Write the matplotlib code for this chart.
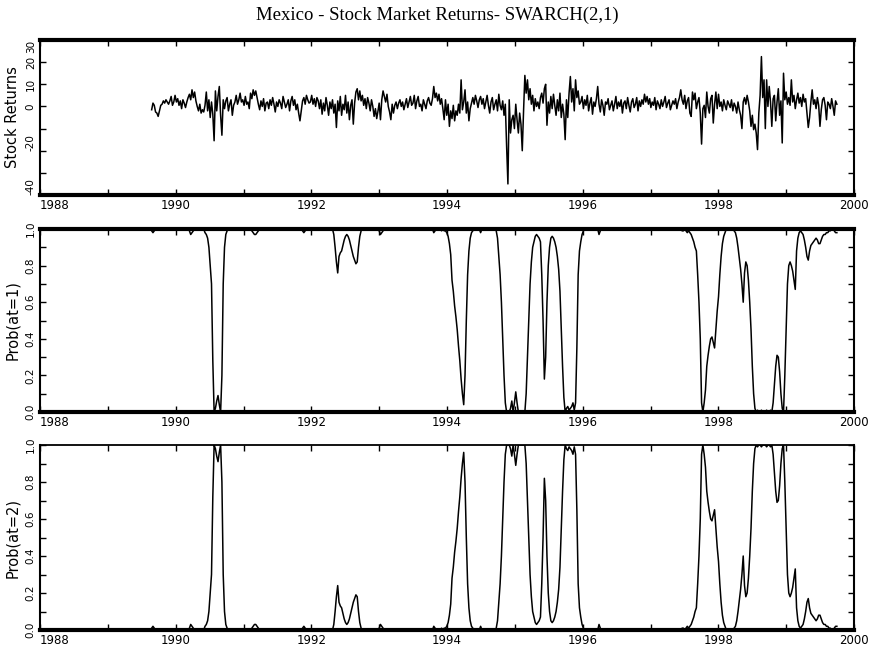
import numpy as np
import pandas as pd
import matplotlib
matplotlib.use("Agg")
import matplotlib.pyplot as plt

# ---------------- data (weekly, from late Aug 1989) ----------------
ret_1989 = [-1.5, 1.5, 0.5, -2.5, -3.0, -4.5, -2.0, 0.5, 1.0, 2.5, 1.5, 3.0, 2.0, 1.0, 2.5, 4.5, 0.5, 2.0]
ret_1990 = [5.0, 2.0, 3.5, 0.5, 2.5, -1.0, 3.0, 1.5, -0.5, 2.0, 4.0, 5.5, 3.0, 7.5, 4.0, 6.5, 2.5, 0.0, -2.0, 1.0,
            -3.0, -1.5, -2.5, 0.5, 6.5, -2.0, 3.0, -5.0, 2.0, -3.5, -15.5, 7.0, -2.0, 4.5, 9.0, -4.0, -13.0, 3.0,
            -1.0, 2.5, 4.0, -2.0, 1.0, 3.0, -4.0, 0.5, 2.0, 5.0, 1.0, 3.0, 6.0, 2.0]
ret_1991 = [3.0, 0.5, 4.5, 1.0, 2.0, -1.0, 6.0, 3.5, 7.5, 5.0, 7.0, 4.0, 1.0, -1.5, 2.5, 0.0, 3.5, -2.0, 1.5, 2.0,
            -1.0, 3.0, 0.5, 4.0, 1.0, -2.5, 2.0, 0.0, 3.0, 1.5, -1.0, 4.5, 2.0, -0.5, 1.0, 3.0, -2.0, 2.5, 4.5,
            0.5, 3.0, -1.5, 1.0, -3.0, -6.5, -2.0, 2.5, 4.0, 1.0, 5.0, 3.0, 1.5]
ret_1992 = [2.0, 5.0, 1.0, 3.5, 0.0, 4.0, 2.5, -1.0, 3.0, -3.5, 1.5, -2.0, 4.0, 0.5, -4.0, 2.0, -1.0, 3.0, -3.0, 1.0,
            -9.5, 2.5, -2.0, 4.5, -4.0, 1.0, -1.5, 5.0, -3.0, 2.0, -6.0, 0.5, 3.0, -8.0, 1.5, 6.5, 8.0, 3.0, 7.0,
            2.5, 5.0, 0.5, 3.5, -1.0, 4.0, 1.5, -2.0, 3.0, 0.0, -4.5, -1.0, -5.5]
ret_1993 = [-2.0, 1.5, -6.0, 3.0, 7.0, 4.5, 2.0, 5.5, 0.0, -2.5, -6.0, 1.0, -3.0, 0.5, 2.0, -1.0, 1.5, 3.0, 0.0, 2.0,
            -1.5, 1.0, 3.5, -0.5, 2.0, 4.5, 0.5, 1.5, 5.0, -1.0, 2.5, 4.5, 0.0, 1.0, -2.0, 3.0, 1.0, -1.0, 2.5,
            4.0, 1.5, 0.5, 3.5, 9.0, 4.0, 6.0, 2.5, 5.5, 1.0, 3.5, -1.0, -6.0]
ret_1994 = [3.0, -4.0, 1.0, -9.0, -2.0, -5.5, 0.5, -6.5, -2.0, -4.0, 1.0, -3.0, 12.0, -1.5, 2.0, 7.5, -3.0, 2.0, -6.5,
            -1.0, 1.5, 4.0, 1.0, 5.0, 2.5, -0.5, 3.0, 4.5, 1.0, 3.5, -1.0, 2.0, 5.0, 0.5, -3.0, 2.0, 4.0, -1.5,
            1.0, 3.0, -2.0, 5.5, 0.5, -1.5, 2.5, -4.0, 1.0, -18.0, -35.0, 3.0, -12.0, -6.0]
ret_1995 = [-4.0, -10.0, 1.0, -6.0, -12.0, -3.0, -8.0, -20.0, -2.0, 14.0, 6.0, 12.0, 3.0, 8.0, 1.0, 5.0, -2.0, 3.5,
            0.0, 2.0, -1.0, 4.0, 6.0, 1.5, 8.0, 10.0, -8.5, 2.0, -3.0, 4.5, -1.0, 5.5, 0.5, -4.0, 3.0, -2.0, 6.0,
            -5.0, 1.0, -3.5, -15.0, 3.0, -5.0, 6.0, 13.5, 2.0, 8.0, -2.0, 12.0, 4.0, 7.0, 1.0]
ret_1996 = [2.0, 4.5, -1.0, 3.0, 0.5, 5.0, -2.0, 1.5, 4.0, -3.5, 2.0, 0.0, 3.5, 9.0, 1.0, -2.5, 3.0, 0.5, -4.0, 2.0,
            1.0, 3.5, -1.5, 0.5, 2.5, -2.0, 1.0, 4.5, -1.0, 2.0, 0.0, 3.0, -3.0, 1.5, 2.5, -1.0, 4.0, 0.5, -2.5,
            2.0, 3.5, -0.5, 1.0, 4.0, -2.0, 2.5, 0.0, 3.0, 1.0, 5.5, 2.0, 4.5]
ret_1997 = [1.0, 3.5, -0.5, 2.0, 0.5, 4.0, -1.5, 2.5, 1.0, -1.0, 3.0, 0.0, 2.0, 4.5, -0.5, 1.5, 3.0, -1.5, 0.5, 2.5,
            1.0, 3.5, -1.0, 2.0, 4.0, 7.5, 3.0, 1.0, 5.0, -1.0, 2.5, 4.0, -3.0, -4.5, 6.5, 3.0, 6.0, -1.0, 2.0,
            4.0, -3.0, -17.0, -1.0, 0.5, -5.0, 6.5, 0.0, -3.0, 3.5, 5.0, -7.5, 1.0]
ret_1998 = [6.5, -1.0, 5.5, 0.0, 2.0, -2.0, 3.0, 0.5, -1.5, 2.5, 1.0, -0.5, 3.0, -2.0, 1.5, 0.0, -3.0, 2.0, -1.5,
            -4.0, -10.0, 2.0, 4.0, 1.0, 5.0, 2.0, -2.0, -9.0, -4.0, -10.5, -8.0, -12.0, -19.5, -3.0, 5.0, 22.5,
            4.0, 12.0, -10.0, 12.0, 0.0, 9.0, 2.0, -9.0, 3.5, 5.0, -6.5, 2.0, 8.0, -4.0, 2.5, -16.5]
ret_1999 = [15.0, 3.0, 6.5, 1.0, 4.0, 0.5, 12.0, 2.0, 5.0, -1.0, 3.0, 6.0, 1.5, 4.0, 0.0, 5.5, 2.0, 3.5, -3.0, -9.5,
            -5.0, 2.0, 7.5, 1.0, 3.0, -1.0, 4.0, 0.5, -9.0, -1.5, 3.0, 4.0, 0.5, -6.0, 2.0, 1.0, -1.0, 3.5, 0.0,
            -4.0, 2.5, 1.0]

p1_1989 = [0.99, 0.98, 0.99, 1.0, 1.0, 1.0, 1.0, 1.0, 1.0, 1.0, 1.0, 1.0, 1.0, 1.0, 1.0, 1.0, 1.0, 1.0]
p1_1990 = [1.0, 1.0, 1.0, 1.0, 1.0, 1.0, 1.0, 1.0, 1.0, 1.0, 1.0, 0.99, 0.97, 0.98, 0.99, 1.0, 1.0, 1.0, 1.0, 1.0,
           1.0, 1.0, 1.0, 0.98, 0.97, 0.95, 0.90, 0.80, 0.70, 0.28, 0.0, 0.02, 0.06, 0.09, 0.04, 0.0, 0.20, 0.70,
           0.90, 0.97, 0.99, 1.0, 1.0, 1.0, 1.0, 1.0, 1.0, 1.0, 1.0, 1.0, 1.0, 1.0]
p1_1991 = [1.0, 1.0, 1.0, 1.0, 1.0, 1.0, 1.0, 0.99, 0.98, 0.97, 0.97, 0.98, 0.99, 1.0, 1.0, 1.0, 1.0, 1.0, 1.0, 1.0,
           1.0, 1.0, 1.0, 1.0, 1.0, 1.0, 1.0, 1.0, 1.0, 1.0, 1.0, 1.0, 1.0, 1.0, 1.0, 1.0, 1.0, 1.0, 1.0, 1.0,
           1.0, 1.0, 1.0, 1.0, 1.0, 1.0, 0.99, 0.98, 0.99, 1.0, 1.0, 1.0]
p1_1992 = [1.0, 1.0, 1.0, 1.0, 1.0, 1.0, 1.0, 1.0, 1.0, 1.0, 1.0, 1.0, 1.0, 1.0, 1.0, 1.0, 1.0, 1.0, 0.97, 0.90,
           0.82, 0.76, 0.85, 0.87, 0.88, 0.91, 0.94, 0.96, 0.97, 0.96, 0.94, 0.91, 0.88, 0.85, 0.83, 0.81, 0.82,
           0.90, 0.96, 0.99, 1.0, 1.0, 1.0, 1.0, 1.0, 1.0, 1.0, 1.0, 1.0, 1.0, 1.0, 1.0]
p1_1993 = [1.0, 0.99, 0.97, 0.98, 0.99, 1.0, 1.0, 1.0, 1.0, 1.0, 1.0, 1.0, 1.0, 1.0, 1.0, 1.0, 1.0, 1.0, 1.0, 1.0,
           1.0, 1.0, 1.0, 1.0, 1.0, 1.0, 1.0, 1.0, 1.0, 1.0, 1.0, 1.0, 1.0, 1.0, 1.0, 1.0, 1.0, 1.0, 1.0, 1.0,
           1.0, 1.0, 1.0, 0.98, 0.99, 1.0, 1.0, 1.0, 1.0, 0.99, 1.0, 0.99]
p1_1994 = [0.99, 0.98, 0.96, 0.92, 0.86, 0.72, 0.66, 0.58, 0.52, 0.45, 0.36, 0.28, 0.18, 0.10, 0.04, 0.20, 0.50,
           0.75, 0.88, 0.95, 0.98, 0.99, 1.0, 1.0, 1.0, 1.0, 1.0, 0.98, 1.0, 1.0, 1.0, 1.0, 1.0, 1.0, 1.0, 1.0,
           1.0, 1.0, 1.0, 0.99, 0.95, 0.85, 0.75, 0.60, 0.40, 0.20, 0.05, 0.0, 0.0, 0.0, 0.02, 0.06]
p1_1995 = [0.0, 0.05, 0.11, 0.05, 0.0, 0.0, 0.0, 0.0, 0.0, 0.0, 0.10, 0.30, 0.50, 0.70, 0.82, 0.90, 0.93, 0.96,
           0.97, 0.96, 0.95, 0.93, 0.75, 0.50, 0.18, 0.30, 0.60, 0.80, 0.90, 0.95, 0.96, 0.95, 0.93, 0.90, 0.85,
           0.78, 0.66, 0.45, 0.25, 0.08, 0.0, 0.02, 0.03, 0.01, 0.02, 0.03, 0.05, 0.01, 0.05, 0.35, 0.75, 0.88]
p1_1996 = [0.93, 0.97, 0.99, 1.0, 1.0, 1.0, 1.0, 1.0, 1.0, 1.0, 1.0, 1.0, 1.0, 1.0, 0.97, 0.99, 1.0, 1.0, 1.0, 1.0,
           1.0, 1.0, 1.0, 1.0, 1.0, 1.0, 1.0, 1.0, 1.0, 1.0, 1.0, 1.0, 1.0, 1.0, 1.0, 1.0, 1.0, 1.0, 1.0, 1.0,
           1.0, 1.0, 1.0, 1.0, 1.0, 1.0, 1.0, 1.0, 1.0, 1.0, 1.0, 1.0]
p1_1997 = [1.0, 1.0, 1.0, 1.0, 1.0, 1.0, 1.0, 1.0, 1.0, 1.0, 1.0, 1.0, 1.0, 1.0, 1.0, 1.0, 1.0, 1.0, 1.0, 1.0,
           1.0, 1.0, 1.0, 1.0, 1.0, 1.0, 0.99, 0.99, 1.0, 0.99, 0.98, 0.99, 0.98, 0.97, 0.95, 0.93, 0.90, 0.88,
           0.75, 0.60, 0.40, 0.05, 0.0, 0.05, 0.12, 0.25, 0.31, 0.36, 0.40, 0.41, 0.38, 0.35]
p1_1998 = [0.45, 0.55, 0.63, 0.75, 0.85, 0.92, 0.96, 0.98, 1.0, 1.0, 1.0, 1.0, 1.0, 1.0, 0.99, 0.98, 0.95, 0.90,
           0.84, 0.78, 0.70, 0.60, 0.76, 0.82, 0.80, 0.72, 0.60, 0.45, 0.25, 0.10, 0.02, 0.0, 0.01, 0.0, 0.0, 0.01,
           0.0, 0.0, 0.0, 0.01, 0.0, 0.0, 0.01, 0.0, 0.05, 0.15, 0.25, 0.31, 0.30, 0.22, 0.10, 0.02]
p1_1999 = [0.0, 0.20, 0.45, 0.70, 0.80, 0.82, 0.80, 0.77, 0.72, 0.67, 0.88, 0.95, 0.98, 0.99, 0.98, 0.97, 0.94,
           0.90, 0.85, 0.83, 0.88, 0.91, 0.92, 0.93, 0.94, 0.95, 0.94, 0.92, 0.92, 0.94, 0.96, 0.97, 0.97, 0.98,
           0.98, 0.99, 0.99, 1.0, 1.0, 0.99, 0.98, 0.98]

returns = (ret_1989 + ret_1990 + ret_1991 + ret_1992 + ret_1993 + ret_1994 + ret_1995 + ret_1996
           + ret_1997 + ret_1998 + ret_1999)
prob1 = (p1_1989 + p1_1990 + p1_1991 + p1_1992 + p1_1993 + p1_1994 + p1_1995 + p1_1996
         + p1_1997 + p1_1998 + p1_1999)
# smoothed probability of regime 2 is the complement of regime 1
prob2 = [1.0 - p for p in prob1]

if len(prob1) != len(returns):
    raise ValueError(f"length mismatch {len(prob1)} vs {len(returns)}")

dates = pd.date_range("1989-08-25", periods=len(returns), freq="W-FRI")
t = np.asarray(dates.year + (dates.dayofyear - 1) / 365.25)

years = list(range(1988, 2001))
year_labels = [str(y) if y % 2 == 0 else "" for y in years]

ret_ticks = [-40, -30, -20, -10, 0, 10, 20, 30]
ret_labels = ["-40", "", "-20", "", "0", "10", "20", "30"]
prob_ticks = [0.0, 0.1, 0.2, 0.3, 0.4, 0.5, 0.6, 0.7, 0.8, 0.9, 1.0]
prob_labels = ["0.0", "", "0.2", "", "0.4", "", "0.6", "", "0.8", "", "1.0"]

# ---------------- figure ----------------
plt.rcParams["font.family"] = ["DejaVu Sans"]
fig = plt.figure(figsize=(8.74, 6.48), dpi=100)
W, H = 874.0, 648.0

def make_ax(top_px, bot_px):
    return fig.add_axes([40 / W, 1 - bot_px / H, 814 / W, (bot_px - top_px) / H])

ax1 = make_ax(40, 195)
ax2 = make_ax(229, 412)
ax3 = make_ax(445, 630)

ax1.plot(t, returns, color="black", lw=1.1)
ax2.plot(t, prob1, color="black", lw=1.1)
ax3.plot(t, prob2, color="black", lw=1.1)

ax1.set_ylim(-40, 30)
ax2.set_ylim(0, 1)
ax3.set_ylim(0, 1)

panels = [(ax1, ret_ticks, ret_labels, "Stock Returns", 3.0),
          (ax2, prob_ticks, prob_labels, "Prob(at=1)", 3.0),
          (ax3, prob_ticks, prob_labels, "Prob(at=2)", 1.3)]

for k, (ax, yt, yl, ylab, top_lw) in enumerate(panels):
    ax.set_xlim(1988, 2000)
    ax.set_xticks(years, labels=year_labels)
    ax.set_yticks(yt, labels=yl)
    ax.tick_params(axis="both", direction="in", top=True, right=True, length=4, width=1, pad=3)
    for lab in ax.get_xticklabels():
        lab.set_fontsize(8.5)
        if lab.get_text() == "1988":
            lab.set_horizontalalignment("left")
    for lab in ax.get_yticklabels():
        lab.set_fontsize(7.5)
        lab.set_rotation(90)
        lab.set_va("center")
    if k == 0:
        ylabs = ax.get_yticklabels()
        ylabs[0].set_va("bottom")   # -40
        ylabs[2].set_va("bottom")   # -20
        ylabs[-1].set_va("top")     # 30
    ax.set_ylabel(ylab, fontsize=10.5)
    ax.yaxis.set_label_coords(-0.025, 0.5)
    ax.spines["bottom"].set_linewidth(3.0)
    ax.spines["top"].set_linewidth(top_lw)
    ax.spines["left"].set_linewidth(1.5)
    ax.spines["right"].set_linewidth(1.5)

fig.text(0.5, 1 - 15 / H, "Mexico - Stock Market Returns- SWARCH(2,1)",
         ha="center", va="center", fontsize=13.5, family=["Liberation Serif"])

fig.savefig("out.png", dpi=100)
